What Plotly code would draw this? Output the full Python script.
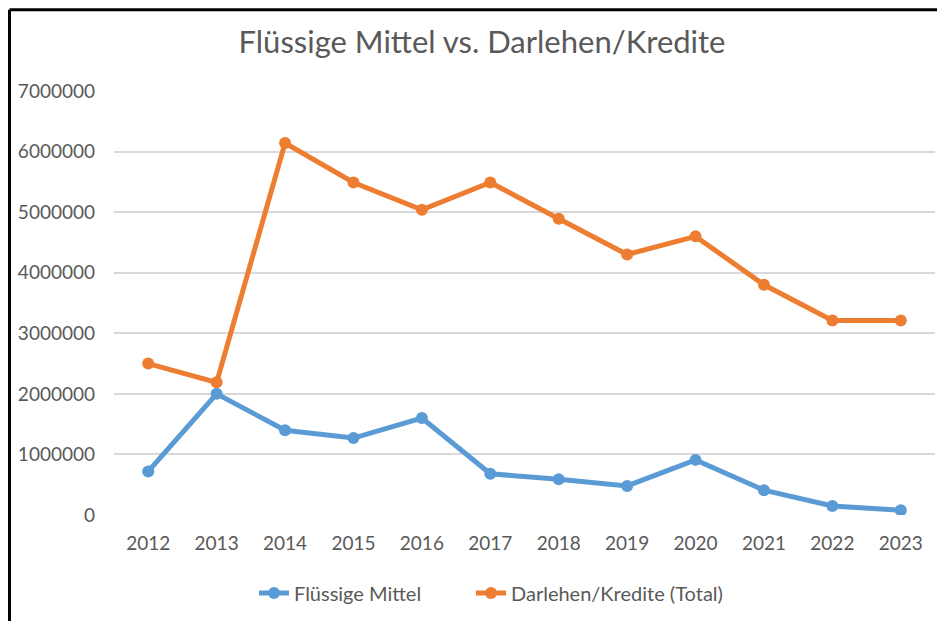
import plotly.graph_objects as go

years = ["2012", "2013", "2014", "2015", "2016", "2017", "2018", "2019", "2020", "2021", "2022", "2023"]
fluessige_mittel = [720000, 2000000, 1400000, 1270000, 1600000, 680000, 590000, 480000, 910000, 410000, 150000, 80000]
darlehen_kredite = [2500000, 2190000, 6140000, 5490000, 5040000, 5490000, 4890000, 4300000, 4600000, 3800000, 3210000, 3210000]
y_ticks = [0, 1000000, 2000000, 3000000, 4000000, 5000000, 6000000, 7000000]

# page offset (browser body margin) compensation
OFF = 8
W, H = 945 - OFF, 621 - OFF
ML, MR, MT, MB = 114 - OFF, 10, 91 - OFF, 105
pw, ph = W - ML - MR, H - MT - MB

def px_x(x):
    return (x - OFF - ML) / pw

def px_y(y):
    return (H - MB - (y - OFF)) / ph

fig = go.Figure()
fig.add_trace(go.Scatter(x=years, y=fluessige_mittel, mode="lines+markers", name="Flüssige Mittel",
                         line=dict(color="#5B9BD5", width=5), marker=dict(size=12, color="#5B9BD5"),
                         legend="legend"))
fig.add_trace(go.Scatter(x=years, y=darlehen_kredite, mode="lines+markers", name="Darlehen/Kredite (Total)",
                         line=dict(color="#ED7D31", width=5), marker=dict(size=12, color="#ED7D31"),
                         legend="legend2"))

font_family = "Lato, 'Open Sans', sans-serif"
leg_common = dict(orientation="h", yanchor="middle", xanchor="left", y=px_y(593),
                  font=dict(size=20, color="#595959"), bgcolor="rgba(0,0,0,0)")
fig.update_layout(
    width=W, height=H,
    margin=dict(l=ML, r=MR, t=MT, b=MB),
    paper_bgcolor="white", plot_bgcolor="white",
    font=dict(family=font_family, color="#595959", size=19),
    title=dict(text="Flüssige Mittel vs. Darlehen/Kredite", x=(482 - OFF) / W, xref="container", xanchor="center",
               y=1 - (42 - OFF) / H, yref="container", yanchor="middle",
               font=dict(size=31, color="#595959", family=font_family)),
    showlegend=True,
    legend=dict(x=px_x(254), **leg_common),
    legend2=dict(x=px_x(471), **leg_common),
    xaxis=dict(type="category", showgrid=False, showline=False, zeroline=False,
               ticks="", ticklabelstandoff=15, tickfont=dict(size=19, color="#595959"),
               range=[-0.5, len(years) - 0.5]),
    yaxis=dict(range=[0, 7000000], tickvals=y_ticks, ticktext=[str(v) for v in y_ticks],
               showgrid=True, gridcolor="#D9D9D9", gridwidth=2, zeroline=False, showline=False,
               ticks="", ticklabelstandoff=18, tickfont=dict(size=19, color="#595959")),
    shapes=[
        dict(type="line", xref="paper", yref="paper", x0=px_x(9.5), x1=px_x(9.5), y0=px_y(9.5), y1=px_y(640),
             line=dict(color="black", width=3)),
        dict(type="line", xref="paper", yref="paper", x0=px_x(9.5), x1=px_x(960), y0=px_y(9.5), y1=px_y(9.5),
             line=dict(color="black", width=3)),
    ],
)

fig.write_html("out.html")
